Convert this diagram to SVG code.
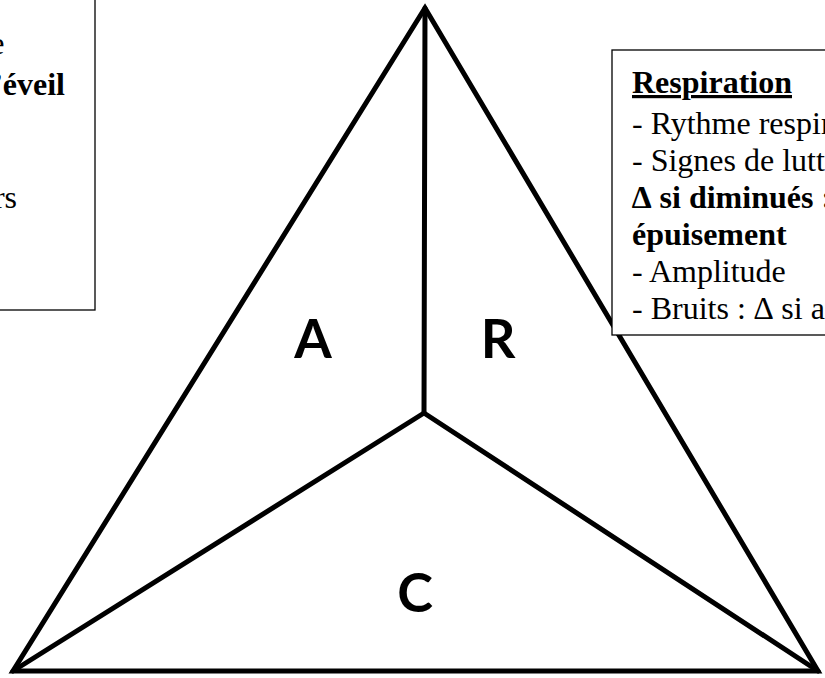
<svg xmlns="http://www.w3.org/2000/svg" width="825" height="678" viewBox="0 0 825 678">
<style>
.edge{stroke:#000;stroke-width:5;fill:none;stroke-linecap:round;stroke-linejoin:miter}
.box{fill:#fff;stroke:#000;stroke-width:1.3}
.t{font-family:"Liberation Serif","Times New Roman",serif;font-size:32px;fill:#000}
.b{font-weight:bold}
.big{font-family:Lato,"Open Sans",sans-serif;font-weight:bold;font-size:54px;fill:#000;text-anchor:middle}
</style>
<rect width="825" height="678" fill="#fff"/>
<g id="connectors">
<polygon class="edge" points="425,8 13,671 818,671"/>
<line class="edge" x1="425" y1="8" x2="424" y2="413"/>
<line class="edge" x1="424" y1="413" x2="13" y2="671"/>
<line class="edge" x1="424" y1="413" x2="818" y2="671"/>
</g>
<g id="nodeA"><text class="big" x="313" y="358">A</text></g>
<g id="nodeR"><text class="big" x="498" y="358">R</text></g>
<g id="nodeC"><text class="big" x="415" y="612">C</text></g>
<g id="boxLeft">
<rect class="box" x="-2" y="-2" width="97" height="312"/>
<text class="t" x="4.5" y="54" text-anchor="end">e</text>
<text class="t b" x="65" y="95" text-anchor="end">’éveil</text>
<text class="t" x="17" y="208" text-anchor="end">rs</text>
</g>
<g id="boxRight">
<rect class="box" x="612" y="50" width="220" height="285"/>
<text class="t b" x="632" y="93" font-size="38" text-decoration="underline">Respiration</text>
<text class="t" x="632" y="134">- Rythme respir</text>
<text class="t" x="632" y="171">- Signes de lutt</text>
<text class="t b" x="632" y="208">∆ si diminués :</text>
<text class="t b" x="632" y="245">épuisement</text>
<text class="t" x="632" y="282">- Amplitude</text>
<text class="t" x="632" y="319">- Bruits : ∆ si a</text>
</g>
</svg>
